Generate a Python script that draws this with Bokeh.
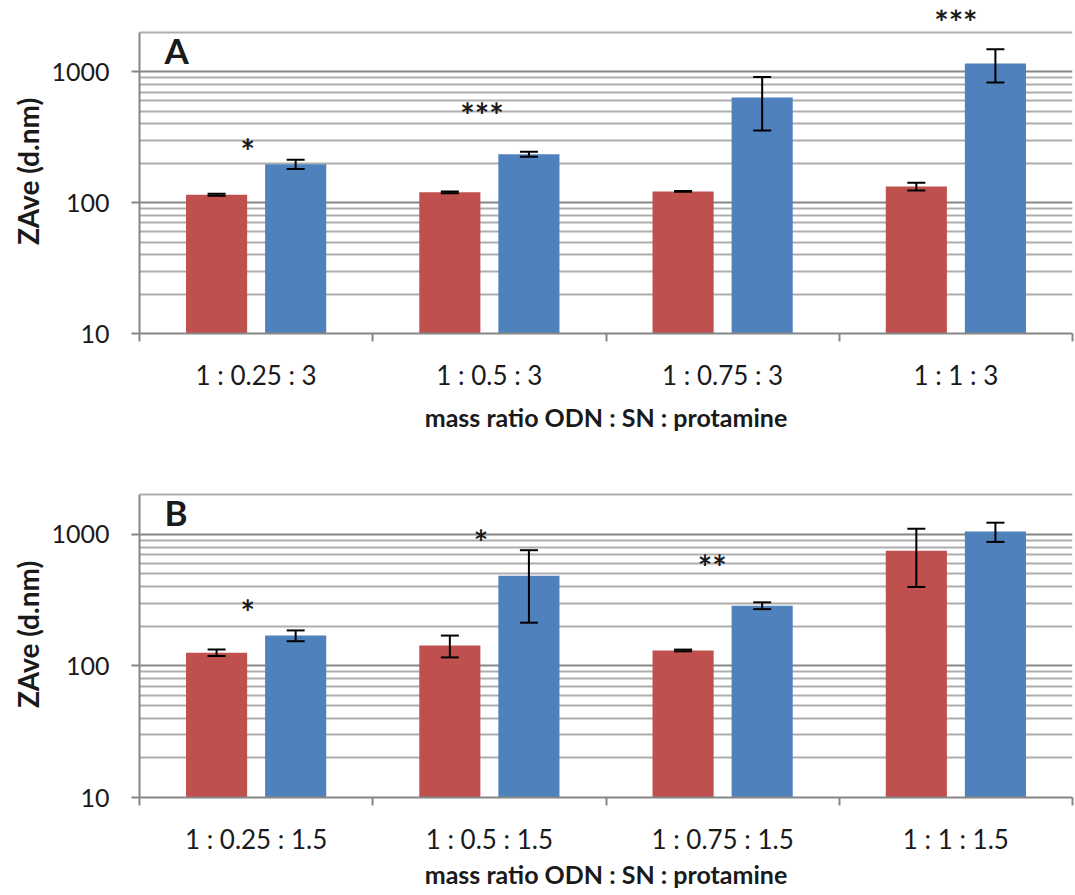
import numpy as np
from bokeh.plotting import figure
from bokeh.models import (ColumnDataSource, Range1d, FixedTicker, Whisker, Label,
                          TeeHead, PrintfTickFormatter)
from bokeh.transform import dodge
from bokeh.layouts import column
from bokeh.embed import file_html
from bokeh.resources import INLINE

# ---------------- data ----------------
cats_a = ["1 : 0.25 : 3", "1 : 0.5 : 3", "1 : 0.75 : 3", "1 : 1 : 3"]
red_a = [115, 120, 122, 133]
red_a_err = [2, 2, 1, 9]
blue_a = [197, 235, 636, 1160]
blue_a_err = [16, 10, 280, 330]
sig_a = ["*", "***", "", "***"]

cats_b = ["1 : 0.25 : 1.5", "1 : 0.5 : 1.5", "1 : 0.75 : 1.5", "1 : 1 : 1.5"]
red_b = [126, 143, 131, 750]
red_b_err = [7, 27, 2, 352]
blue_b = [170, 485, 287, 1050]
blue_b_err = [16, 272, 17, 175]
sig_b = ["*", "*", "**", ""]

y_major = [10, 100, 1000]
y_minor = [20, 30, 40, 50, 60, 70, 80, 90,
           200, 300, 400, 500, 600, 700, 800, 900, 2000]

x_title = "mass ratio ODN : SN : protamine"
y_title = "ZAve (d.nm)"

RED = "#C0504D"
BLUE = "#4F81BD"
AXIS_GRAY = "#868686"
MINOR_GRAY = "#adadad"
TXT = "#1a1a1a"

BAR_W = 0.262
OFF = 0.1695
Y_LO, Y_AXIS_TOP, Y_VIEW_TOP = 10, 2000, 3000


def make_panel(cats, red, red_err, blue, blue_err, sig, sig_pos, letter,
               height, top, bottom, xlabel_standoff):
    n = len(cats)
    x = np.arange(n) + 0.5
    red = np.array(red, float); red_err = np.array(red_err, float)
    blue = np.array(blue, float); blue_err = np.array(blue_err, float)
    src = ColumnDataSource(dict(
        x=x, red=red, blue=blue,
        red_lo=red - red_err, red_hi=red + red_err,
        blue_lo=blue - blue_err, blue_hi=blue + blue_err,
    ))

    p = figure(width=1075, height=height, y_axis_type="log",
               x_range=Range1d(0, n), y_range=Range1d(Y_LO, Y_VIEW_TOP),
               output_backend="svg", toolbar_location=None,
               min_border_left=139, min_border_right=3,
               min_border_top=top, min_border_bottom=bottom)
    p.outline_line_color = None
    p.background_fill_color = "white"
    p.border_fill_color = "white"

    p.vbar(x=dodge("x", -OFF), top="red", bottom=Y_LO, width=BAR_W,
           fill_color=RED, line_color=None, source=src)
    p.vbar(x=dodge("x", OFF), top="blue", bottom=Y_LO, width=BAR_W,
           fill_color=BLUE, line_color=None, source=src)

    for base, lo, hi in ((dodge("x", -OFF), "red_lo", "red_hi"),
                         (dodge("x", OFF), "blue_lo", "blue_hi")):
        w = Whisker(source=src, base=base, lower=lo, upper=hi,
                    line_color="black", line_width=2, level="annotation",
                    upper_head=TeeHead(size=18, line_color="black", line_width=2),
                    lower_head=TeeHead(size=18, line_color="black", line_width=2))
        p.add_layout(w)

    # y axis
    yt = FixedTicker(ticks=y_major, minor_ticks=y_minor)
    p.yaxis.ticker = yt
    p.ygrid.ticker = yt
    p.yaxis.bounds = (Y_LO, Y_AXIS_TOP)
    p.yaxis.formatter = PrintfTickFormatter(format="%d")
    p.yaxis.axis_line_color = AXIS_GRAY
    p.yaxis.axis_line_width = 2
    p.yaxis.major_tick_line_color = AXIS_GRAY
    p.yaxis.major_tick_line_width = 2
    p.yaxis.major_tick_out = 8
    p.yaxis.major_tick_in = 0
    p.yaxis.minor_tick_out = 0
    p.yaxis.minor_tick_in = 0
    p.yaxis.major_label_text_font = "Lato"
    p.yaxis.major_label_text_font_size = "25px"
    p.yaxis.major_label_text_color = TXT
    p.yaxis.major_label_standoff = 22
    p.yaxis.axis_label = y_title
    p.yaxis.axis_label_text_font = "Lato"
    p.yaxis.axis_label_text_font_style = "bold"
    p.yaxis.axis_label_text_font_size = "28px"
    p.yaxis.axis_label_text_color = TXT
    p.yaxis.axis_label_standoff = 3

    p.ygrid.grid_line_color = AXIS_GRAY
    p.ygrid.grid_line_width = 2
    p.ygrid.minor_grid_line_color = MINOR_GRAY
    p.ygrid.minor_grid_line_width = 2
    p.xgrid.visible = False

    # x axis
    xt = FixedTicker(ticks=list(x), minor_ticks=list(range(n + 1)))
    p.xaxis.ticker = xt
    p.xaxis.major_label_overrides = {float(v): c for v, c in zip(x, cats)}
    p.xaxis.axis_line_color = AXIS_GRAY
    p.xaxis.axis_line_width = 2
    p.xaxis.major_tick_out = 0
    p.xaxis.major_tick_in = 0
    p.xaxis.minor_tick_out = 8
    p.xaxis.minor_tick_in = 0
    p.xaxis.minor_tick_line_color = AXIS_GRAY
    p.xaxis.minor_tick_line_width = 2
    p.xaxis.major_label_text_font = "Lato"
    p.xaxis.major_label_text_font_size = "26px"
    p.xaxis.major_label_text_color = TXT
    p.xaxis.major_label_standoff = 17
    p.xaxis.axis_label = x_title
    p.xaxis.axis_label_text_font = "Lato"
    p.xaxis.axis_label_text_font_style = "bold"
    p.xaxis.axis_label_text_font_size = "25px"
    p.xaxis.axis_label_text_color = TXT
    p.xaxis.axis_label_standoff = xlabel_standoff

    # panel letter
    p.add_layout(Label(x=0.107, y=1480, text=letter, text_font="Lato",
                       text_font_style="bold", text_font_size="35px",
                       text_color=TXT, text_baseline="alphabetic"))
    # significance marks
    for s, (sx, sy) in zip(sig, sig_pos):
        if s:
            p.add_layout(Label(x=sx, y=sy, text=s, text_font="Lato",
                               text_font_style="bold", text_font_size="34px",
                               text_color=TXT, text_align="center",
                               text_baseline="middle"))
    return p


pa = make_panel(cats_a, red_a, red_a_err, blue_a, blue_a_err, sig_a,
                [(0.464, 250), (1.468, 470), (0, 0), (3.5, 2410)],
                "A", height=445, top=9, bottom=112, xlabel_standoff=8)
pb = make_panel(cats_b, red_b, red_b_err, blue_b, blue_b_err, sig_b,
                [(0.464, 259), (1.464, 877), (2.455, 574), (0, 0)],
                "B", height=450, top=26, bottom=98, xlabel_standoff=1)

layout = column(pa, pb, spacing=0)
open("out.html", "w").write(file_html(layout, INLINE))
